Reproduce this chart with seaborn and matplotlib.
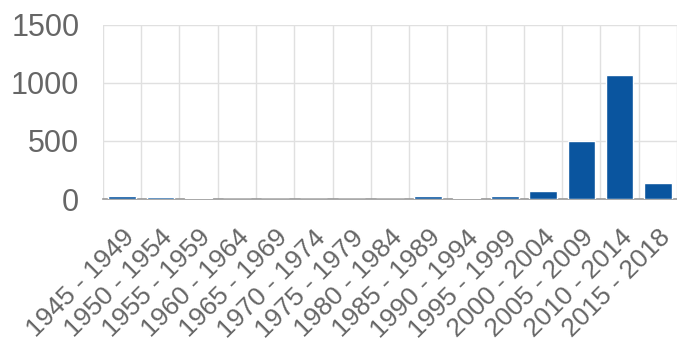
import matplotlib
matplotlib.use("Agg")
import matplotlib.pyplot as plt
import numpy as np
import pandas as pd
import seaborn as sns

# Data
periods = ["1945 - 1949", "1950 - 1954", "1955 - 1959", "1960 - 1964",
           "1965 - 1969", "1970 - 1974", "1975 - 1979", "1980 - 1984",
           "1985 - 1989", "1990 - 1994", "1995 - 1999", "2000 - 2004",
           "2005 - 2009", "2010 - 2014", "2015 - 2018"]
counts = [28, 14, 6, 3, 2, 2, 2, 3, 25, 6, 25, 70, 502, 1070, 138]
y_ticks = [0, 500, 1000, 1500]

BAR_COLOR = "#0a559f"
TEXT_COLOR = "#666666"
GRID_COLOR = "#e0e0e0"

sns.set_theme(style="white")
plt.rcParams["font.family"] = ["Liberation Sans", "DejaVu Sans"]

df = pd.DataFrame({"period": periods, "count": counts})

fig = plt.figure(figsize=(6.77, 3.51), dpi=100)
ax = fig.add_axes([0.152, 0.433, 0.848, 0.496])

sns.barplot(data=df, x="period", y="count", color=BAR_COLOR, width=0.72,
            saturation=1, ax=ax, zorder=3)

ax.set_ylim(0, 1500)
ax.set_yticks(y_ticks)
ax.set_xlim(-0.5, len(periods) - 0.5)
ax.set_xlabel("")
ax.set_ylabel("")

# gridlines at category boundaries, like chart.js
ax.set_xticks(np.arange(-0.5, len(periods), 1), minor=True)
ax.grid(True, which="minor", axis="x", color=GRID_COLOR, linewidth=1, zorder=0)
ax.grid(True, which="major", axis="y", color=GRID_COLOR, linewidth=1, zorder=0)
ax.tick_params(axis="x", which="minor", length=8, color=GRID_COLOR, width=1)
ax.tick_params(axis="x", which="major", length=0, pad=19)
ax.tick_params(axis="y", length=15, color=GRID_COLOR, width=1, pad=2,
               labelsize=22, labelcolor=TEXT_COLOR)

for s in ["top", "right", "left"]:
    ax.spines[s].set_visible(False)
ax.spines["bottom"].set_color("#999999")
ax.spines["bottom"].set_linewidth(1.2)

ax.set_xticks(range(len(periods)))
ax.set_xticklabels(periods, rotation=45, ha="right", va="top",
                   rotation_mode="anchor", fontsize=19, color=TEXT_COLOR)

fig.savefig("out.png", dpi=100)
